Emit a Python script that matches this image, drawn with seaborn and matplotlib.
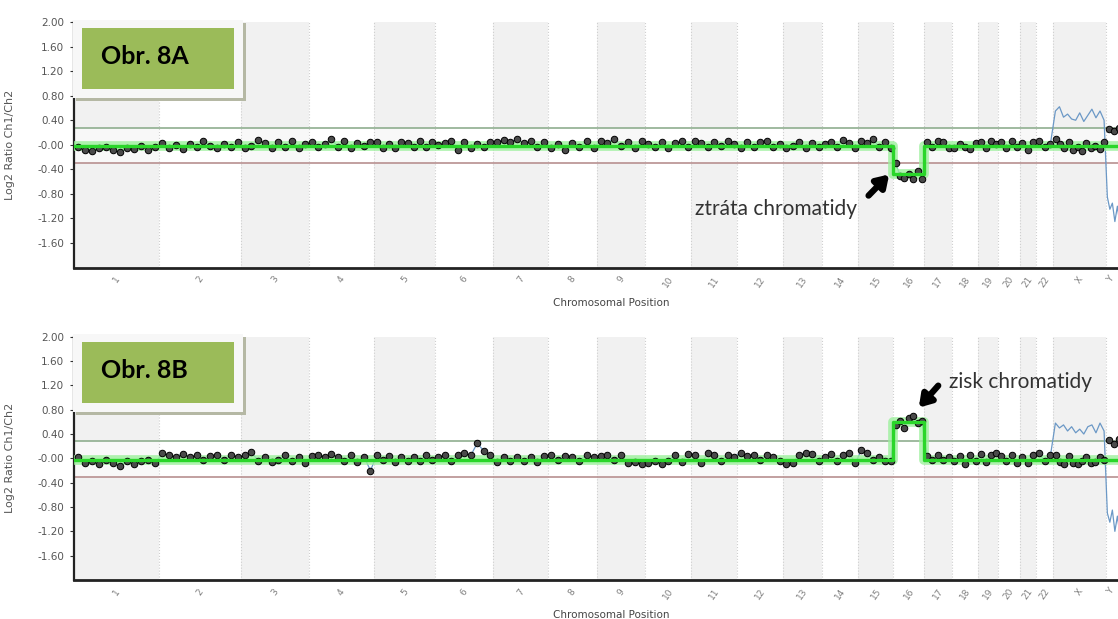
import numpy as np
import pandas as pd
import matplotlib
matplotlib.use("Agg")
import matplotlib.pyplot as plt
import seaborn as sns
from matplotlib.patches import Rectangle

# chromosomes and their lengths (Mb)
chroms = [str(i) for i in range(1, 23)] + ["X", "Y"]
chrom_mb = [249, 243, 198, 191, 181, 171, 159, 146, 141, 136, 135, 134,
            115, 107, 103, 90, 81, 78, 59, 63, 48, 51, 155, 59]

# segment (green line) log2 ratio per chromosome
seg_8a = [-0.02] * 15 + [-0.48] + [-0.02] * 8
seg_8b = [-0.02] * 15 + [0.60] + [-0.02] * 8

# probe log2 ratios read along each chromosome, Obr. 8A
dots_8a = [
    [-0.04, -0.08, -0.10, -0.06, -0.03, -0.09, -0.12, -0.05, -0.07, -0.02, -0.08, -0.04],
    [0.03, -0.05, 0.00, -0.07, 0.02, -0.03, 0.06, -0.02, -0.06, 0.01, -0.04, 0.04],
    [-0.06, -0.02, 0.08, 0.03, -0.05, 0.04, -0.03, 0.07, -0.06, 0.02],
    [0.05, -0.04, 0.02, 0.09, -0.03, 0.06, -0.06, 0.03, -0.02, 0.04],
    [0.04, -0.05, 0.02, -0.06, 0.05, 0.03, -0.04, 0.06, -0.03, 0.05],
    [0.00, 0.03, 0.06, -0.08, 0.05, -0.06, 0.02, -0.04, 0.04],
    [0.04, 0.08, 0.05, 0.09, 0.03, 0.06, -0.04, 0.05],
    [-0.05, 0.02, -0.08, 0.03, -0.03, 0.06, -0.05],
    [0.07, 0.03, 0.10, -0.02, 0.04, -0.05, 0.06],
    [0.02, -0.04, 0.05, -0.06, 0.03, 0.06, -0.03],
    [0.06, 0.03, -0.04, 0.05, -0.02, 0.07, 0.02],
    [-0.05, 0.04, -0.03, 0.05, 0.06, -0.04, 0.02],
    [-0.06, -0.02, 0.04, -0.05, 0.03, -0.04],
    [0.02, 0.04, -0.03, 0.08, 0.03, -0.05],
    [0.06, 0.03, 0.10, -0.04, 0.05, -0.06],
    [-0.30, -0.50, -0.54, -0.47, -0.56, -0.42, -0.55],
    [0.05, -0.03, 0.07, 0.04, -0.05],
    [-0.06, 0.02, -0.04, -0.07, 0.03],
    [0.04, -0.05, 0.06, 0.02],
    [0.05, -0.06, 0.07, -0.04],
    [0.03, -0.08, 0.05],
    [0.06, -0.04, 0.02],
    [0.10, 0.02, -0.05, 0.05, -0.08, -0.03, -0.10, 0.03, -0.06, -0.02, -0.07, 0.04],
    [0.25, 0.22, 0.28, 0.18],
]

# Obr. 8B
dots_8b = [
    [0.02, -0.08, -0.05, -0.10, -0.03, -0.07, -0.12, -0.04, -0.09, -0.05, -0.02, -0.08],
    [0.08, 0.05, 0.03, 0.07, 0.02, 0.06, -0.03, 0.04, 0.05, -0.02, 0.06, 0.03],
    [0.05, 0.10, -0.04, 0.03, -0.06, -0.03, 0.05, -0.05, 0.02, -0.07],
    [0.04, 0.06, 0.03, 0.07, 0.02, -0.04, 0.05, -0.06, 0.03, -0.20],
    [0.05, -0.03, 0.04, -0.06, 0.02, -0.05, 0.03, -0.04, 0.05, -0.02],
    [0.03, 0.05, -0.04, 0.06, 0.08, 0.05, 0.25, 0.12, 0.06],
    [-0.06, 0.02, -0.04, 0.03, -0.05, 0.02, -0.06, 0.04],
    [0.05, -0.03, 0.04, 0.02, -0.04, 0.06, 0.03],
    [0.04, 0.06, -0.03, 0.05, -0.08, -0.06, -0.10],
    [-0.07, -0.05, -0.09, -0.04, 0.05, -0.06, 0.07],
    [0.06, -0.08, 0.08, 0.05, -0.04, 0.06, 0.03],
    [0.08, 0.04, 0.06, -0.03, 0.05, 0.02, -0.05],
    [-0.10, -0.07, 0.06, 0.09, 0.07, -0.04],
    [0.03, 0.07, -0.05, 0.05, 0.08, -0.08],
    [0.14, 0.08, -0.03, 0.02, -0.05, -0.04],
    [0.55, 0.62, 0.50, 0.66, 0.70, 0.58, 0.62],
    [0.04, -0.03, 0.05, -0.02, 0.03],
    [-0.04, 0.04, -0.10, 0.06, -0.05],
    [0.07, -0.06, 0.05, 0.08],
    [0.04, -0.05, 0.06, -0.07],
    [0.03, -0.08, 0.05],
    [0.08, -0.04, 0.05],
    [0.06, -0.06, -0.09, 0.04, -0.07, -0.10, -0.05, 0.03, -0.08, -0.06, 0.02, -0.03],
    [0.30, 0.24, 0.32, 0.22],
]

# reference profile (blue line) on the sex chromosomes
blue_x_8a = [0.55, 0.62, 0.45, 0.50, 0.42, 0.40, 0.52, 0.38, 0.48, 0.58, 0.44, 0.55, 0.40]
blue_y_8a = [-0.85, -1.05, -0.95, -1.25, -1.00, -1.30, -0.95, -1.10]
blue_x_8b = [0.58, 0.50, 0.55, 0.45, 0.52, 0.42, 0.48, 0.40, 0.52, 0.55, 0.42, 0.58, 0.45]
blue_y_8b = [-0.90, -1.05, -0.85, -1.20, -0.95, -1.25, -1.00, -1.10]

yticks = [2.0, 1.6, 1.2, 0.8, 0.4, 0.0, -0.4, -0.8, -1.2, -1.6]
ytick_labels = ["2.00", "1.60", "1.20", "0.80", "0.40", "-0.00",
                "-0.40", "-0.80", "-1.20", "-1.60"]

starts = np.concatenate([[0], np.cumsum(chrom_mb)[:-1]])
ends = starts + np.array(chrom_mb)
mids = (starts + ends) / 2


def spread(vals, start, size):
    n = len(vals)
    return start + (np.arange(n) + 0.5) / n * size


def build(dots, blue_x, blue_y):
    rows = []
    for c, vals, s, w in zip(chroms, dots, starts, chrom_mb):
        for p, v in zip(spread(vals, s, w), vals):
            rows.append((c, p, v))
    df = pd.DataFrame(rows, columns=["chrom", "pos", "log2"])
    # blue line: probes on autosomes, reference profile on X / Y
    auto = df[~df.chrom.isin(["X", "Y"])][["pos", "log2"]]
    bx = pd.DataFrame({"pos": spread(blue_x, starts[22], chrom_mb[22]), "log2": blue_x})
    by = pd.DataFrame({"pos": spread(blue_y, starts[23], chrom_mb[23]), "log2": blue_y})
    blue = pd.concat([auto, bx, by], ignore_index=True)
    return df, blue


sns.set_style("white")
plt.rcParams["font.family"] = ["DejaVu Sans"]

W, H = 1118, 619
fig = plt.figure(figsize=(W / 100, H / 100), dpi=100)
ax_a = fig.add_axes([74 / W, 1 - 267.6 / H, 1 - 74 / W, 245.6 / H])
ax_b = fig.add_axes([74 / W, 1 - 580 / H, 1 - 74 / W, 243.3 / H])

panels = [(ax_a, dots_8a, seg_8a, blue_x_8a, blue_y_8a),
          (ax_b, dots_8b, seg_8b, blue_x_8b, blue_y_8b)]

for ax, dots, seg, bxv, byv in panels:
    df, blue = build(dots, bxv, byv)
    xmax = 3069

    # alternate chromosome shading + boundaries
    for i, (s, e) in enumerate(zip(starts, ends)):
        if i % 2 == 0:
            ax.axvspan(s, e, color="#f1f1f1", lw=0, zorder=0)
        ax.axvline(e, color="#cfcfcf", lw=0.8, ls=":", zorder=1)
    ax.axhspan(-0.30, 0.28, color="white", alpha=0.55, lw=0, zorder=0.5)
    ax.axhline(0.28, color="#8fae8f", lw=1.2, zorder=1.5)
    ax.axhline(-0.30, color="#b89090", lw=1.2, zorder=1.5)

    sns.lineplot(data=blue, x="pos", y="log2", ax=ax, sort=False, estimator=None,
                 color="#6b98c6", lw=0.9, zorder=2)

    # segmentation step line
    seg_x = np.append(starts, xmax)
    seg_y = np.append(seg, seg[-1])
    ax.step(seg_x, seg_y, where="post", color="#9cf09c", lw=7, alpha=0.8, zorder=3,
            solid_capstyle="butt")
    sns.scatterplot(data=df, x="pos", y="log2", ax=ax, s=22, color="#4a4a4a",
                    edgecolor="black", linewidth=0.7, zorder=4, legend=False)
    ax.step(seg_x, seg_y, where="post", color="#2ad62a", lw=2.4, zorder=5)

    ax.set_xlim(0, xmax)
    ax.set_ylim(-2.0, 2.0)
    ax.set_yticks(yticks)
    ax.set_yticklabels(ytick_labels)
    ax.set_xticks(mids)
    ax.set_xticklabels(chroms, rotation=55)
    ax.tick_params(axis="y", labelsize=7.5, labelcolor="#555555", length=3,
                   width=0.8, color="#333333", left=True, pad=4)
    ax.tick_params(axis="x", labelsize=6.5, labelcolor="#808080", length=0, pad=5)
    for lab in ax.get_xticklabels():
        lab.set_ha("center")
    ax.get_xticklabels()[-1].set_ha("right")
    for side in ["top", "right"]:
        ax.spines[side].set_visible(False)
    ax.spines["left"].set_color("#222222")
    ax.spines["bottom"].set_color("#222222")
    ax.spines["left"].set_linewidth(1.6)
    ax.spines["bottom"].set_linewidth(2.0)

    ax.set_ylabel("Log2 Ratio Ch1/Ch2", fontsize=8, color="#555555")
    ax.yaxis.set_label_coords(-0.0565, 0.5)
    ax.set_xlabel("Chromosomal Position", fontsize=7.5, color="#444444")
    ax.xaxis.label.set_va("center")
    ax.xaxis.set_label_coords(0.515, -0.143)

# annotations
ax_a.annotate("", xy=(2402, -0.45), xytext=(2330, -0.86),
              arrowprops=dict(arrowstyle="-|>,head_length=0.7,head_width=0.45",
                              lw=4.5, color="black"), zorder=6)
ax_a.text(2302, -1.05, "ztráta chromatidy", ha="right", va="center",
          fontsize=15, color="#333333", family="Lato")
ax_b.annotate("", xy=(2478, 0.80), xytext=(2546, 1.23),
              arrowprops=dict(arrowstyle="-|>,head_length=0.7,head_width=0.45",
                              lw=4.5, color="black"), zorder=6)
ax_b.text(2572, 1.26, "zisk chromatidy", ha="left", va="center",
          fontsize=15, color="#333333", family="Lato")


# figure labels "Obr. 8A" / "Obr. 8B"
def px_rect(x0, y0, x1, y1, **kw):
    fig.patches.append(Rectangle((x0 / W, 1 - y1 / H), (x1 - x0) / W, (y1 - y0) / H,
                                 transform=fig.transFigure, **kw))


for label, top in [("Obr. 8A", 20), ("Obr. 8B", 334)]:
    px_rect(76, top + 3, 246, top + 81, facecolor="#b5b8a4", lw=0, zorder=10)
    px_rect(73, top, 243, top + 78, facecolor="#f7f7f7", lw=0, zorder=11)
    px_rect(82, top + 8, 234, top + 69, facecolor="#9bbb59", lw=0, zorder=12)
    fig.text(101 / W, 1 - (top + 36) / H, label, fontsize=18, fontweight="bold",
             family="Lato", color="black", va="center", ha="left", zorder=13)

fig.savefig("out.png", dpi=100)
